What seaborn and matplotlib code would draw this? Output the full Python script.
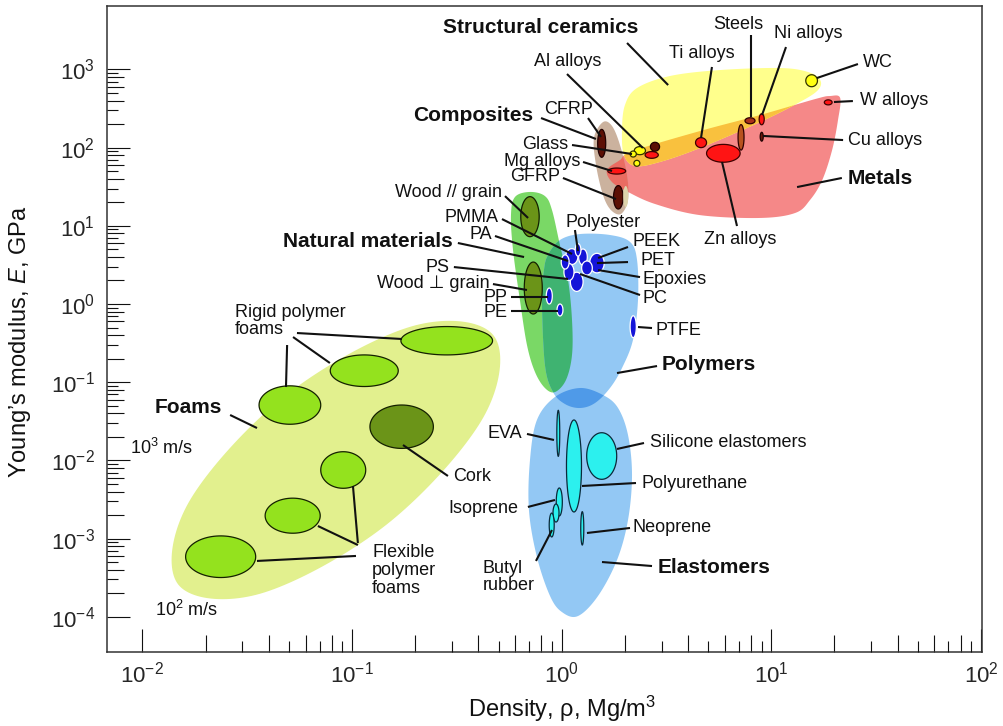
import numpy as np
import matplotlib
matplotlib.use("Agg")
import matplotlib.pyplot as plt
import matplotlib.ticker as mticker
import seaborn as sns

# ---------------- envelope outlines (density Mg/m^3, modulus GPa) ----------------
FOAM_RHO = [0.473, 0.423, 0.1465, 0.0366, 0.01483, 0.0166, 0.048, 0.192]
FOAM_E = [0.397, 0.0355, 0.00152, 1.98e-4, 2.58e-4, 2.89e-3, 0.0672, 0.517]

NAT_RHO = [0.599, 0.706, 0.832, 0.899, 0.981, 1.072, 1.120, 1.120, 1.048, 0.929,
           0.832, 0.746, 0.683, 0.632, 0.586, 0.573]
NAT_E = [23.4, 27.1, 24.0, 15.9, 5.68, 2.03, 0.624, 0.223, 0.1067, 0.0749,
         0.0843, 0.135, 0.299, 1.125, 4.90, 13.7]

POLY_RHO = [0.860, 0.981, 1.223, 1.70, 2.12, 2.288, 2.312, 2.188, 1.94, 1.70,
            1.442, 1.223, 1.037, 0.909, 0.832, 0.805, 0.823]
POLY_E = [4.23, 6.58, 7.85, 7.63, 6.21, 3.65, 1.125, 0.347, 0.152, 0.0843,
          0.0542, 0.0468, 0.0526, 0.0749, 0.166, 1.125, 2.72]

ELAS_RHO = [1.223, 1.574, 1.857, 2.072, 2.165, 2.072, 1.836, 1.49, 1.196, 1.003,
            0.880, 0.762, 0.698, 0.706, 0.762, 0.929]
ELAS_E = [0.0843, 0.0686, 0.0468, 0.0211, 0.0065, 0.00173, 0.000532, 0.0001845,
          0.0001023, 0.000115, 0.0001845, 0.000582, 0.00232, 0.0101, 0.0329, 0.0647]

COMP_RHO = [1.574, 1.738, 1.897, 2.05, 2.072, 1.918, 1.718, 1.574, 1.458, 1.426]
COMP_E = [212, 189, 108, 44.6, 21.4, 14.2, 15.9, 24.8, 59.9, 133]

CER_RHO = [1.94, 2.004, 2.288, 3.287, 5.69, 11.0, 14.96, 17.1, 16.7, 13.7,
           8.83, 4.57, 2.94, 2.24, 1.98]
CER_E = [168, 351, 578, 824, 982, 1042, 927, 732, 545, 383, 212, 98.9, 65.5, 58.2, 80.4]

MET_RHO = [1.645, 1.897, 2.188, 4.57, 8.83, 16.2, 19.05, 21.3, 20.8, 19.5, 17.5,
           15.3, 13.0, 8.83, 4.57, 2.79, 2.072, 1.738]
MET_E = [51.7, 69.4, 90.5, 163, 261, 418, 457, 431, 225, 93.1, 38.5, 21.4, 14.6,
         12.6, 13.7, 19.0, 27.1, 36.3]

# ---------------- material bubbles ----------------
BUB_NAME = ["WC", "W alloys", "Steels", "Ni alloys", "Cu alloys", "Steels2", "Ti alloys",
            "Zn alloys", "Al alloys", "Al alloys2", "Glass1", "Glass2", "Glass3",
            "Mg alloys", "CFRP", "GFRP", "GFRP2", "Wood par", "Wood perp",
            "PP", "PE", "PTFE", "P1", "P2", "P3", "P4", "P5", "P6", "P7", "P8",
            "EVA", "Polyurethane", "Silicone", "Isoprene", "Butyl1", "Butyl2", "Neoprene",
            "Rigid1", "Rigid2", "Rigid3", "Cork", "Flex1", "Flex2", "Flex3"]
BUB_RHO_LO = [14.6, 17.9, 7.49, 8.75, 8.85, 6.94, 4.35, 4.91, 2.50, 2.65, 2.22, 2.12, 2.21,
              1.66, 1.485, 1.767, 1.965, 0.638, 0.663,
              0.844, 0.950, 2.12, 1.36, 1.045, 1.100, 1.025, 1.205, 1.245, 0.995, 1.16,
              0.948, 1.054, 1.316, 0.942, 0.909, 0.872, 1.233,
              0.171, 0.0787, 0.0360, 0.1217, 0.0709, 0.03849, 0.01607]
BUB_RHO_HI = [16.6, 19.5, 8.36, 9.25, 9.15, 7.41, 4.91, 7.10, 2.89, 2.93, 2.51, 2.27, 2.36,
              2.02, 1.622, 1.963, 2.077, 0.781, 0.808,
              0.902, 1.014, 2.27, 1.595, 1.195, 1.265, 1.145, 1.325, 1.400, 1.085, 1.235,
              0.979, 1.243, 1.830, 1.007, 0.971, 0.921, 1.275,
              0.468, 0.1661, 0.0709, 0.2443, 0.1162, 0.0705, 0.0347]
BUB_E_LO = [601, 352, 202, 196, 121, 93, 100, 65, 73, 90, 81.2, 75.8, 57.7,
            45.9, 75.2, 16.4, 17.4, 7.26, 0.745,
            1.0, 0.703, 0.371, 2.50, 3.20, 1.45, 2.00, 3.15, 2.35, 2.80, 4.10,
            0.01128, 0.00219, 0.00573, 0.00195, 0.00163, 0.00105, 0.000828,
            0.2234, 0.0881, 0.0290, 0.01424, 0.00440, 0.001172, 0.000318]
BUB_E_HI = [855, 408, 241, 271, 157, 197, 134, 110, 89, 117, 103, 90.5, 68.8,
            54.8, 171, 32.7, 32.3, 23.6, 3.44,
            1.6, 1.0, 0.708, 4.45, 5.10, 2.55, 3.30, 5.05, 3.55, 4.25, 5.90,
            0.0437, 0.0329, 0.0226, 0.00444, 0.00277, 0.00212, 0.00221,
            0.515, 0.2234, 0.0899, 0.0511, 0.01292, 0.00329, 0.001083]
BUB_KIND = ["yellow", "red", "steel", "red", "cu", "steel2", "red", "red", "red", "dark",
            "yellow", "yellow", "yellow", "red", "dark", "dark", "beige", "olive", "olive",
            "blue", "blue", "blue", "blue", "blue", "blue", "blue", "blue", "blue", "blue", "blue",
            "cyan", "cyan", "cyan", "cyan", "cyan", "cyan", "cyan",
            "green", "green", "green", "olive", "green", "green", "green"]

# ---------------- labels ----------------
LABELS = [
    ("Structural ceramics", 0.797, 3486, "center", "bold"),
    ("Al alloys", 1.066, 1254, "center", "normal"),
    ("Ti alloys", 4.65, 1607, "center", "normal"),
    ("Steels", 6.94, 3808, "center", "normal"),
    ("Ni alloys", 15.05, 2893, "center", "normal"),
    ("WC", 27.4, 1244, "left", "normal"),
    ("W alloys", 26.5, 406, "left", "normal"),
    ("Cu alloys", 23.2, 125, "left", "normal"),
    ("Metals", 23.2, 39.7, "left", "bold"),
    ("Zn alloys", 7.09, 6.72, "center", "normal"),
    ("Composites", 0.730, 254, "right", "bold"),
    ("CFRP", 1.077, 303, "center", "normal"),
    ("Glass", 1.072, 111, "right", "normal"),
    ("Mg alloys", 1.223, 67.4, "right", "normal"),
    ("GFRP", 0.981, 42.1, "right", "normal"),
    ("Wood // grain", 0.519, 26.3, "right", "normal"),
    ("PMMA", 0.497, 12.96, "right", "normal"),
    ("PA", 0.465, 7.85, "right", "normal"),
    ("Natural materials", 0.303, 6.39, "right", "bold"),
    ("PS", 0.293, 2.97, "right", "normal"),
    ("Wood \u22a5 grain", 0.455, 1.856, "right", "normal"),
    ("PP", 0.554, 1.229, "right", "normal"),
    ("PE", 0.554, 0.790, "right", "normal"),
    ("Polyester", 1.582, 10.96, "center", "normal"),
    ("PEEK", 2.165, 6.21, "left", "normal"),
    ("PET", 2.364, 3.55, "left", "normal"),
    ("Epoxies", 2.44, 2.03, "left", "normal"),
    ("PC", 2.44, 1.193, "left", "normal"),
    ("PTFE", 2.79, 0.465, "left", "normal"),
    ("Polymers", 3.01, 0.166, "left", "bold"),
    ("Silicone elastomers", 2.64, 0.01718, "left", "normal"),
    ("Polyurethane", 2.416, 0.00514, "left", "normal"),
    ("EVA", 0.647, 0.0224, "right", "normal"),
    ("Isoprene", 0.619, 0.00246, "right", "normal"),
    ("Neoprene", 2.188, 0.001406, "left", "normal"),
    ("Butyl\nrubber", 0.421, 0.000323, "left", "normal"),
    ("Elastomers", 2.88, 0.000433, "left", "bold"),
    ("Rigid polymer\nfoams", 0.02767, 0.606, "left", "normal"),
    ("Foams", 0.01148, 0.0468, "left", "bold"),
    ("Cork", 0.303, 0.00614, "left", "normal"),
    ("Flexible\npolymer\nfoams", 0.1245, 0.000391, "left", "normal"),
    ("10$^3$ m/s", 0.00873, 0.0144, "left", "normal"),
    ("10$^2$ m/s", 0.01148, 0.000122, "left", "normal"),
]

LEADERS = [
    (2.05, 2178, 3.22, 631), (1.06, 873, 2.44, 98.9), (5.21, 1074, 4.62, 133),
    (8.0, 2754, 8.0, 246), (11.75, 1933, 9.03, 261), (25.9, 1172, 16.5, 776),
    (24.5, 394, 19.9, 383), (22.0, 125, 9.13, 141), (21.7, 40.9, 13.27, 31.3),
    (6.86, 9.94, 5.82, 65.5), (0.797, 239, 1.457, 129), (1.335, 239, 1.54, 137),
    (1.12, 108, 2.165, 82.8), (1.264, 65.5, 1.738, 50.2), (1.014, 40.9, 1.816, 22.0),
    (0.5365, 24.0, 0.6913, 12.6), (0.519, 12.2, 1.12, 4.36), (0.4806, 7.41, 1.072, 3.55),
    (0.3197, 6.03, 0.6615, 3.99), (0.306, 2.97, 1.072, 2.09), (0.470, 1.80, 0.683, 1.51),
    (0.573, 1.229, 0.860, 1.229), (0.573, 0.814, 0.960, 0.814), (1.157, 8.83, 1.196, 4.76),
    (2.072, 5.36, 1.492, 3.88), (2.072, 3.44, 1.474, 3.34), (2.364, 2.21, 1.492, 2.72),
    (2.364, 1.303, 1.223, 2.42), (2.697, 0.493, 2.312, 0.508), (2.85, 0.161, 1.836, 0.131),
    (2.47, 0.0167, 1.836, 0.0140), (2.262, 0.00514, 1.25, 0.00471),
    (0.683, 0.0218, 0.919, 0.01824), (0.690, 0.00254, 0.929, 0.00312),
    (2.118, 0.001367, 1.32, 0.00118), (0.754, 0.000518, 0.899, 0.001288),
    (2.697, 0.000446, 1.557, 0.000502),
    (0.0546, 0.4256, 0.173, 0.357), (0.0523, 0.3784, 0.0784, 0.176),
    (0.0490, 0.299, 0.0484, 0.0868), (0.0262, 0.0381, 0.0352, 0.02595),
    (0.2867, 0.00632, 0.175, 0.01574), (0.1066, 0.000879, 0.101, 0.00471),
    (0.1066, 0.000828, 0.0687, 0.00145), (0.1044, 0.0006, 0.0352, 0.000518),
]

X_DECADES = [-2, -1, 0, 1, 2]
Y_DECADES = [-4, -3, -2, -1, 0, 1, 2, 3]

# ---------------- style ----------------
sns.set_style("ticks")
plt.rcParams['font.family'] = ['Liberation Sans', 'DejaVu Sans']
plt.rcParams['mathtext.fontset'] = 'custom'
plt.rcParams['mathtext.rm'] = 'Liberation Sans'
plt.rcParams['mathtext.it'] = 'Liberation Sans:italic'
plt.rcParams['mathtext.bf'] = 'Liberation Sans:bold'

ENV_COL = dict(foam='#e2f08e', nat='#7ad866', poly='#93c8f4', elas='#93c8f4',
               comp='#cbb29e', cer='#ffff8c', met='#f58888')
OVL_COL = dict(cer_met='#f9c13e', comp_met='#ea6c62', nat_poly='#3fb371', poly_elas='#4f9ae8')
BUB_STYLE = dict(
    yellow=('#ffff10', '#333300'), red=('#ff1414', '#400000'), steel=('#a8301a', '#300000'),
    cu=('#6b1a0a', '#200000'), steel2=('#b8521e', '#300000'), dark=('#5c1005', '#200000'),
    beige=('#ddd3ab', 'none'), olive=('#6b9418', '#142000'), blue=('#1414d8', '#ffffff'),
    cyan=('#2cf0ee', '#0a2a3a'), green=('#94e21e', '#142000'))

fig = plt.figure(figsize=(10.04, 7.26), dpi=100)
ax = fig.add_axes([0.10657, 0.10193, 0.87151, 0.88981])
ax.set_xscale('log')
ax.set_yscale('log')
ax.set_xlim(10 ** -2.169, 10 ** 2.005)
ax.set_ylim(10 ** -4.45, 10 ** 3.811)


def smooth(rho, E, n=24):
    P = np.column_stack([np.log10(rho), np.log10(E)])
    m = len(P)
    t = np.linspace(0, 1, n, endpoint=False)[:, None]
    out = []
    for i in range(m):
        p0, p1, p2, p3 = P[i - 1], P[i], P[(i + 1) % m], P[(i + 2) % m]
        seg = 0.5 * ((2 * p1) + (-p0 + p2) * t + (2 * p0 - 5 * p1 + 4 * p2 - p3) * t ** 2
                     + (-p0 + 3 * p1 - 3 * p2 + p3) * t ** 3)
        out.append(seg)
    out = np.vstack(out)
    return 10 ** out[:, 0], 10 ** out[:, 1]


def env(rho, E, color, z=1):
    x, y = smooth(rho, E)
    return ax.fill(x, y, color=color, lw=0, zorder=z)[0]


p_foam = env(FOAM_RHO, FOAM_E, ENV_COL['foam'])
p_nat = env(NAT_RHO, NAT_E, ENV_COL['nat'])
p_poly = env(POLY_RHO, POLY_E, ENV_COL['poly'])
p_elas = env(ELAS_RHO, ELAS_E, ENV_COL['elas'])
p_met = env(MET_RHO, MET_E, ENV_COL['met'])
p_cer = env(CER_RHO, CER_E, ENV_COL['cer'])
p_comp = env(COMP_RHO, COMP_E, ENV_COL['comp'])

env(CER_RHO, CER_E, OVL_COL['cer_met'], 2).set_clip_path(p_met)
env(COMP_RHO, COMP_E, OVL_COL['comp_met'], 2).set_clip_path(p_met)
env(NAT_RHO, NAT_E, OVL_COL['nat_poly'], 2).set_clip_path(p_poly)
env(ELAS_RHO, ELAS_E, OVL_COL['poly_elas'], 2).set_clip_path(p_poly)

# bubbles
tt = np.linspace(0, 2 * np.pi, 90)
for lo, hi, elo, ehi, kind in zip(BUB_RHO_LO, BUB_RHO_HI, BUB_E_LO, BUB_E_HI, BUB_KIND):
    cx = (np.log10(lo) + np.log10(hi)) / 2
    rx = (np.log10(hi) - np.log10(lo)) / 2
    cy = (np.log10(elo) + np.log10(ehi)) / 2
    ry = (np.log10(ehi) - np.log10(elo)) / 2
    fc, ec = BUB_STYLE[kind]
    ax.fill(10 ** (cx + rx * np.cos(tt)), 10 ** (cy + ry * np.sin(tt)),
            facecolor=fc, edgecolor=ec, lw=0.9 if ec != 'none' else 0, zorder=3)

# leaders
for r0, e0, r1, e1 in LEADERS:
    ax.plot([r0, r1], [e0, e1], color='#111111', lw=1.5, solid_capstyle='butt', zorder=5)

# labels
for txt, r, e, ha, w in LABELS:
    fs = 15 if w == 'bold' else 13
    ax.text(r, e, txt, ha=ha, va='center', fontsize=fs, fontweight=w, color='#111111',
            linespacing=1.05, zorder=6)

# ---------------- axes / ticks ----------------
ax.xaxis.set_major_locator(mticker.FixedLocator([10.0 ** k for k in X_DECADES]))
ax.yaxis.set_major_locator(mticker.FixedLocator([10.0 ** k for k in Y_DECADES]))
ax.xaxis.set_major_formatter(mticker.LogFormatterSciNotation())
ax.yaxis.set_major_formatter(mticker.LogFormatterSciNotation())
ax.xaxis.set_minor_locator(mticker.FixedLocator(
    [m * 10.0 ** k for k in X_DECADES[:-1] for m in (2, 4, 6, 8)]))
ax.yaxis.set_minor_locator(mticker.FixedLocator(
    [m * 10.0 ** k for k in Y_DECADES[:-1] for m in (2, 4, 6, 8)]))
ax.xaxis.set_minor_formatter(mticker.NullFormatter())
ax.yaxis.set_minor_formatter(mticker.NullFormatter())
ax.tick_params(which='major', direction='in', length=16.5, width=0.8, color='#111111',
               labelsize=16, top=False, right=False)
ax.tick_params(which='minor', direction='in', length=12, width=0.8, color='#111111',
               top=False, right=False)
ax.tick_params(axis='y', which='major', pad=8.5)
ax.tick_params(axis='x', which='major', pad=7)
odd_x = [m * 10.0 ** k for k in X_DECADES[:-1] for m in (3, 5, 7, 9)]
odd_y = [m * 10.0 ** k for k in Y_DECADES[:-1] for m in (3, 5, 7, 9)]
ax.vlines(odd_x, 0, 11 / 646, transform=ax.get_xaxis_transform(), color='#111111', lw=0.8,
          clip_on=False, zorder=7)
ax.hlines(odd_y, 0, 11 / 875, transform=ax.get_yaxis_transform(), color='#111111', lw=0.8,
          clip_on=False, zorder=7)
for s in ax.spines.values():
    s.set_linewidth(1.1)
    s.set_color('#333333')

ax.set_xlabel('Density, \u03c1, Mg/m$^3$', fontsize=17, color='#111111')
ax.set_ylabel('Young\u2019s modulus, $E$, GPa', fontsize=17, color='#111111')
ax.xaxis.set_label_coords(0.52, -0.064)
ax.yaxis.set_label_coords(-0.0846, 0.48)

fig.savefig('out.png', dpi=100, facecolor='white')
